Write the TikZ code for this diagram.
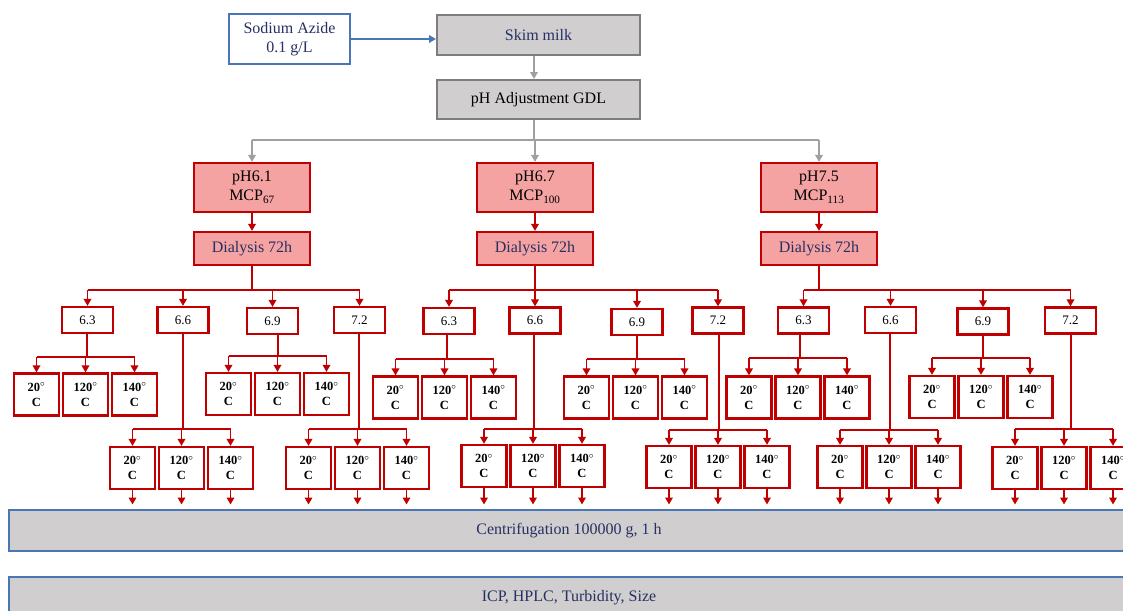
\documentclass[tikz,border=0pt]{standalone}
\usepackage{fontspec}
\setmainfont{Liberation Serif}
\usetikzlibrary{arrows.meta}
\definecolor{dred}{RGB}{192,0,0}
\definecolor{pinkf}{RGB}{245,162,162}
\definecolor{grayf}{RGB}{208,206,206}
\definecolor{grayd}{RGB}{125,125,125}
\definecolor{grayarr}{RGB}{160,160,160}
\definecolor{blueb}{RGB}{74,118,184}
\definecolor{navy}{RGB}{38,48,98}
\tikzset{
  wbox/.style={draw=blueb, line width=2pt, fill=white, minimum width=121pt, minimum height=50pt, inner sep=0pt, align=center, text=navy, font=\fontsize{16}{19}\selectfont},
  gbox/.style={draw=grayd, line width=2pt, fill=grayf, minimum width=203pt, inner sep=0pt, align=center, font=\fontsize{16}{19}\selectfont},
  pbox/.style={draw=dred, line width=2.2pt, fill=pinkf, minimum width=116pt, inner sep=0pt, align=center, font=\fontsize{16}{19}\selectfont},
  cbox/.style={draw=blueb, line width=2pt, fill=grayf, minimum width=1120pt, minimum height=41pt, inner sep=0pt, text=navy, font=\fontsize{16}{19}\selectfont},
  vbox/.style={draw=dred, line width=2.2pt, fill=white, minimum width=51pt, minimum height=26pt, inner sep=0pt, font=\fontsize{13}{15}\selectfont},
  tbox/.style={draw=dred, line width=2.2pt, fill=white, minimum width=45pt, minimum height=42pt, inner sep=0pt, align=center, font=\fontsize{12.5}{15}\selectfont\bfseries},
  redline/.style={draw=dred, line width=1.9pt},
  redarr/.style={draw=dred, line width=1.9pt, -{Triangle[length=7pt,width=7.5pt]}},
  grayline/.style={draw=grayarr, line width=1.9pt},
  grayarrow/.style={draw=grayarr, line width=1.9pt, -{Triangle[length=7pt,width=7.5pt]}},
  bluearrow/.style={draw=blueb, line width=1.9pt, -{Triangle[length=7pt,width=7.5pt]}},
}
% #1 parent, #2 line x, #3 children centre x, #4 children centre y, #5 junction y
\newcommand\mytemps[5]{%
  \node[tbox] (#1-a) at (#3-49,#4) {20$^{\circ}$\\C};
  \node[tbox] (#1-b) at (#3,#4) {120$^{\circ}$\\C};
  \node[tbox] (#1-c) at (#3+49,#4) {140$^{\circ}$\\C};
  \coordinate (#1-j) at (#2,#5);
  \draw[redline] (#1.south -| #1-j) -- (#1-j);
  \draw[redline] (#1-a.north |- #1-j) -- (#1-c.north |- #1-j);
  \draw[redarr] (#1-a.north |- #1-j) -- (#1-a.north);
  \draw[redarr] (#1-b.north |- #1-j) -- (#1-b.north);
  \draw[redarr] (#1-c.north |- #1-j) -- (#1-c.north);
}
\newcommand\mydown[1]{%
  \draw[redarr, shorten >=4.5pt] (#1-a.south) -- (#1-a.south |- centri.north);
  \draw[redarr, shorten >=4.5pt] (#1-b.south) -- (#1-b.south |- centri.north);
  \draw[redarr, shorten >=4.5pt] (#1-c.south) -- (#1-c.south |- centri.north);
}
\begin{document}
\begin{tikzpicture}[x=1pt,y=-1pt]
\useasboundingbox (0,0) rectangle (1123,610);
\fill[white] (0,0) rectangle (1123,610);

% top
\node[wbox] (azide) at (289.5,39) {Sodium Azide\\0.1 g/L};
\node[gbox, minimum height=40pt, text=navy] (skim) at (538.5,35) {Skim milk};
\node[gbox, minimum height=39pt] (adj) at (538.5,99.5) {pH Adjustment GDL};
\draw[bluearrow] (azide.east) -- (azide.east -| skim.west);
\draw[grayarrow] ([xshift=-4.5pt]skim.south) -- ([xshift=-4.5pt]adj.north);

% pH level
\node[pbox, minimum height=49pt] (pA) at (252,187.5) {pH6.1\\MCP\textsubscript{67}};
\node[pbox, minimum height=49pt] (pB) at (535,187.5) {pH6.7\\MCP\textsubscript{100}};
\node[pbox, minimum height=49pt] (pC) at (819,187.5) {pH7.5\\MCP\textsubscript{113}};
\coordinate (br) at (534,140);
\draw[grayline] ([xshift=-4.5pt]adj.south) -- (br);
\draw[grayline] (pA.north |- br) -- (pC.north |- br);
\draw[grayarrow] (pA.north |- br) -- (pA.north);
\draw[grayarrow] (pB.north |- br) -- (pB.north);
\draw[grayarrow] (pC.north |- br) -- (pC.north);

% dialysis
\node[pbox, minimum height=33pt, text=navy] (dA) at (252,248.5) {Dialysis 72h};
\node[pbox, minimum height=33pt, text=navy] (dB) at (535,248.5) {Dialysis 72h};
\node[pbox, minimum height=33pt, text=navy] (dC) at (819,248.5) {Dialysis 72h};
\draw[redarr] (pA.south) -- (dA.north);
\draw[redarr] (pB.south) -- (dB.north);
\draw[redarr] (pC.south) -- (dC.north);

% values
\node[vbox] (A63) at (87.5,320) {6.3};
\node[vbox] (A66) at (183,320) {6.6};
\node[vbox] (A69) at (272.5,321) {6.9};
\node[vbox] (A72) at (359.5,320) {7.2};
\node[vbox] (B63) at (449,321) {6.3};
\node[vbox] (B66) at (535,320.5) {6.6};
\node[vbox] (B69) at (637,322) {6.9};
\node[vbox] (B72) at (718,320.5) {7.2};
\node[vbox] (C63) at (803.5,320.5) {6.3};
\node[vbox] (C66) at (890.5,320) {6.6};
\node[vbox] (C69) at (983,321.5) {6.9};
\node[vbox] (C72) at (1070.5,320.5) {7.2};

\foreach \d/\g in {dA/A,dB/B,dC/C}{
  \coordinate (\g-j) at (0,290);
  \draw[redline] (\d.south) -- (\d.south |- \g-j);
  \draw[redline] (\g63.north |- \g-j) -- (\g72.north |- \g-j);
  \foreach \v in {63,66,69,72}{
    \draw[redarr] (\g\v.north |- \g-j) -- (\g\v.north);
  }
}

% bottom boxes
\node[cbox] (centri) at (569,530.5) {Centrifugation 100000 g, 1 h};
\node[cbox] (icp) at (569,597.5) {ICP, HPLC, Turbidity, Size};

% temperatures
\mytemps{A63}{87}{85.5}{394.5}{357}
\mytemps{A66}{183}{181.5}{468}{429}
\mytemps{A69}{278}{277.5}{394}{356}
\mytemps{A72}{359}{357.5}{468}{429}
\mytemps{B63}{447}{444.5}{397.5}{359}
\mytemps{B66}{534}{533}{466}{429}
\mytemps{B69}{637}{635.5}{397.5}{359}
\mytemps{B72}{719}{718}{467}{430}
\mytemps{C63}{800}{798}{397.5}{358}
\mytemps{C66}{890}{889}{467}{430}
\mytemps{C69}{983}{981}{397}{358}
\mytemps{C72}{1071}{1064}{468}{429}

\mydown{A66}
\mydown{A72}
\mydown{B66}
\mydown{B72}
\mydown{C66}
\mydown{C72}
\end{tikzpicture}
\end{document}
